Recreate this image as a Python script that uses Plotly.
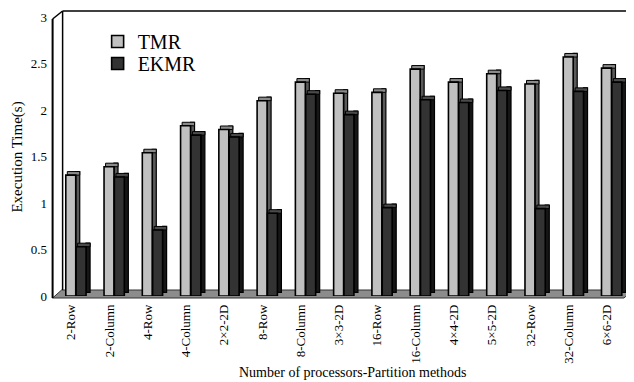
import plotly.graph_objects as go

categories = ["2-Row", "2-Column", "4-Row", "4-Column", "2×2-2D", "8-Row", "8-Column",
              "3×3-2D", "16-Row", "16-Column", "4×4-2D", "5×5-2D", "32-Row", "32-Column", "6×6-2D"]
tmr = [1.30, 1.39, 1.54, 1.83, 1.79, 2.10, 2.30, 2.18, 2.19, 2.44, 2.30, 2.39, 2.28, 2.57, 2.45]
ekmr = [0.53, 1.28, 0.71, 1.73, 1.71, 0.89, 2.17, 1.95, 0.95, 2.11, 2.08, 2.21, 0.94, 2.20, 2.30]
y_ticks = [0, 0.5, 1, 1.5, 2, 2.5, 3]
y_tick_text = ["0", "0.5", "1", "1.5", "2", "2.5", "3"]

SERIF = "Liberation Serif, Times New Roman, serif"
x = list(range(len(categories)))
n = len(x)
depth = 0.038   # vertical depth of pseudo-3D faces (axis units)
FW, SW = 0.26, 0.105  # front and side face widths (category units)


def add_3d_bars(values, name, legend, front_off, front_col, side_col, top_col):
    # side face
    fig.add_trace(go.Bar(x=x, y=values, base=[depth] * n, offset=front_off + FW, width=SW,
                         marker=dict(color=side_col, line=dict(color="black", width=1.2)),
                         showlegend=False, hoverinfo="skip"))
    # top face
    fig.add_trace(go.Bar(x=x, y=[depth] * n, base=values, offset=front_off + 0.04, width=FW + SW - 0.04,
                         marker=dict(color=top_col, line=dict(color="black", width=1.0)),
                         showlegend=False, hoverinfo="skip"))
    # front face
    fig.add_trace(go.Bar(x=x, y=values, name=name, offset=front_off, width=FW, legend=legend,
                         marker=dict(color=front_col, line=dict(color="black", width=1.6))))


fig = go.Figure()
add_3d_bars(tmr, "TMR", "legend", -0.14, "#c0c0c0", "#5a5a5a", "#8a8a8a")
add_3d_bars(ekmr, "EKMR", "legend2", 0.13, "#333333", "#161616", "#4a4a4a")

# page offset (browser body margin)
O = 8
# geometry helpers (page pixel -> paper)
L, R, T, B = 52.4, 626.0, 17.0, 296.0
def px(v):
    return (v - L) / (R - L)
def py(v):
    return (B - v) / (B - T)

shapes = [
    # floor
    dict(type="path", xref="paper", yref="paper", layer="below",
         path=f"M {px(53)} {py(298)} L {px(624)} {py(298)} L {px(633)} {py(290)} L {px(62)} {py(290)} Z",
         fillcolor="#8c8c8c", line=dict(color="#333333", width=1)),
    # back wall left edge
    dict(type="line", xref="paper", yref="paper", x0=px(63), x1=px(63), y0=py(290), y1=py(11),
         line=dict(color="black", width=1.5)),
    # top edge
    dict(type="line", xref="paper", yref="paper", x0=px(63), x1=px(634), y0=py(11), y1=py(11),
         line=dict(color="black", width=1.5)),
    # diagonal corner
    dict(type="line", xref="paper", yref="paper", x0=px(53), x1=px(63), y0=py(19), y1=py(11),
         line=dict(color="black", width=1.5)),
    # left axis line
    dict(type="line", xref="paper", yref="paper", x0=px(53), x1=px(53), y0=py(298), y1=py(19),
         line=dict(color="black", width=2)),
]

annotations = [
    dict(text="Number of processors-Partition methods", xref="paper", yref="paper",
         x=px(353), y=py(372), xanchor="center", yanchor="middle", showarrow=False,
         font=dict(family=SERIF, size=14, color="black")),
    dict(text="Execution Time(s)", xref="paper", yref="paper", textangle=-90,
         x=px(17), y=py(157), xanchor="center", yanchor="middle", showarrow=False,
         font=dict(family=SERIF, size=15, color="black")),
]

legend_style = dict(xanchor="left", yanchor="top",
                    font=dict(family=SERIF, size=20, color="black"),
                    bgcolor="rgba(0,0,0,0)")

fig.update_layout(
    width=634 - O, height=382 - O,
    margin=dict(l=L - O, r=8, t=T - O, b=86),
    paper_bgcolor="white", plot_bgcolor="rgba(0,0,0,0)",
    barmode="overlay",
    showlegend=True,
    legend=dict(x=px(98), y=py(22), **legend_style),
    legend2=dict(x=px(98), y=py(44), **legend_style),
    font=dict(family=SERIF, color="black"),
    shapes=shapes,
    annotations=annotations,
    xaxis=dict(range=[-0.5, 14.5], tickmode="array", tickvals=x, ticktext=categories,
               tickangle=-90, tickfont=dict(family=SERIF, size=13, color="black"),
               showgrid=False, zeroline=False, showline=False, ticks="",
               ticklabelstandoff=5, automargin=False),
    yaxis=dict(range=[0, 3], tickmode="array", tickvals=y_ticks, ticktext=y_tick_text,
               tickfont=dict(family=SERIF, size=13, color="black"),
               showgrid=False, zeroline=False, showline=False, ticks="",
               ticklabelstandoff=4, automargin=False),
)

fig.write_html("out.html")
